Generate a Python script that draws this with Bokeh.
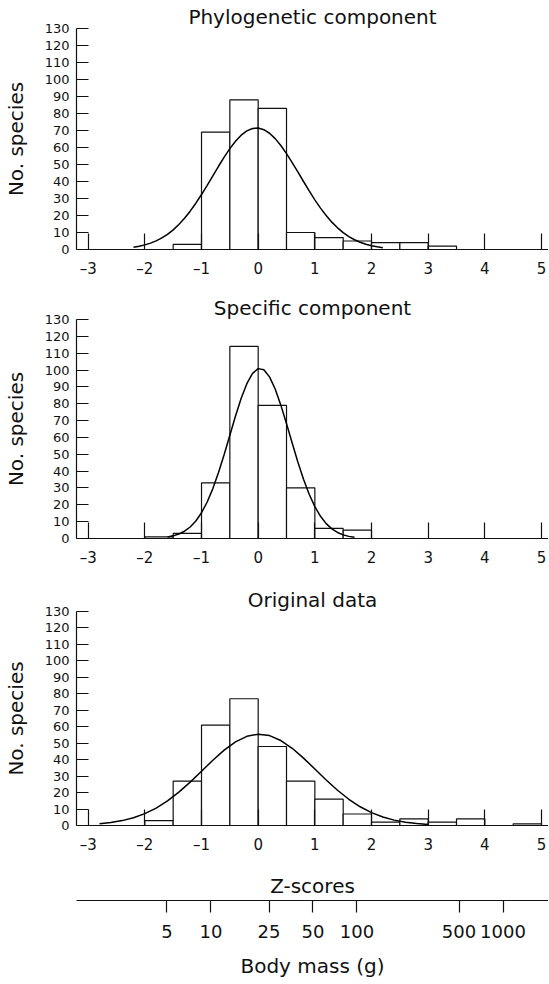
from bokeh.plotting import figure
from bokeh.layouts import column
from bokeh.models import Range1d, FixedTicker, LinearAxis, LogScale, CustomJSTickFormatter
from bokeh.embed import file_html
from bokeh.resources import INLINE

FONT = "DejaVu Sans"
INK = "#111111"

# ---------------- data ----------------
Z_TICKS = [-3, -2, -1, 0, 1, 2, 3, 4, 5]
Y_TICKS = [0, 10, 20, 30, 40, 50, 60, 70, 80, 90, 100, 110, 120, 130]
MASS_TICKS = [5, 10, 25, 50, 100, 500, 1000]
MASS_AT_Z0 = 21.07        # body mass (g) lying under z = 0
DECADES_PER_Z = 0.388     # log10 body mass per one z unit

BIN_WIDTH = 0.5

PHYLO_TITLE = "Phylogenetic component"
PHYLO_BIN_LEFT = [-1.5, -1.0, -0.5, 0.0, 0.5, 1.0, 1.5, 2.0, 2.5, 3.0]
PHYLO_COUNTS = [3, 69, 88, 83, 10, 7, 5, 4, 4, 2]
PHYLO_CURVE_X = [-2.2, -2.1, -2.0, -1.9, -1.8, -1.7, -1.6, -1.5, -1.4, -1.3, -1.2, -1.1,
                 -1.0, -0.9, -0.8, -0.7, -0.6, -0.5, -0.4, -0.3, -0.2, -0.1, 0.0,
                 0.1, 0.2, 0.3, 0.4, 0.5, 0.6, 0.7, 0.8, 0.9, 1.0, 1.1, 1.2, 1.3,
                 1.4, 1.5, 1.6, 1.7, 1.8, 1.9, 2.0, 2.1, 2.2]
PHYLO_CURVE_Y = [1.35, 1.93, 2.71, 3.75, 5.09, 6.80, 8.94, 11.56, 14.69, 18.35, 22.54, 27.23,
                 32.34, 37.77, 43.37, 48.96, 54.37, 59.35, 63.71, 67.24, 69.78, 71.21, 71.45,
                 70.49, 68.38, 65.23, 61.18, 56.42, 51.16, 45.62, 40.00, 34.48, 29.22, 24.36,
                 19.96, 16.09, 12.75, 9.93, 7.61, 5.73, 4.24, 3.09, 2.21, 1.56, 1.08]

SPEC_TITLE = "Specific component"
SPEC_BIN_LEFT = [-2.0, -1.5, -1.0, -0.5, 0.0, 0.5, 1.0, 1.5]
SPEC_COUNTS = [1, 3, 33, 114, 79, 30, 6, 5]
SPEC_CURVE_X = [-1.6, -1.5, -1.4, -1.3, -1.2, -1.1, -1.0, -0.9, -0.8, -0.7, -0.6, -0.5,
                -0.4, -0.3, -0.2, -0.1, 0.0, 0.1, 0.2, 0.3, 0.4, 0.5, 0.6, 0.7, 0.8,
                0.9, 1.0, 1.1, 1.2, 1.3, 1.4, 1.5, 1.6, 1.7]
SPEC_CURVE_Y = [0.89, 1.57, 2.65, 4.33, 6.84, 10.41, 15.28, 21.66, 29.63, 39.12, 49.84, 61.26,
                72.68, 83.20, 91.92, 98.01, 100.84, 100.12, 95.94, 88.71, 79.16, 68.17,
                56.65, 45.43, 35.15, 26.26, 18.93, 13.16, 8.84, 5.72, 3.57, 2.16, 1.26, 0.70]

ORIG_TITLE = "Original data"
ORIG_BIN_LEFT = [-2.0, -1.5, -1.0, -0.5, 0.0, 0.5, 1.0, 1.5, 2.0, 2.5, 3.0, 3.5, 4.5]
ORIG_COUNTS = [3, 27, 61, 77, 48, 27, 16, 7, 2, 4, 2, 4, 1]
ORIG_CURVE_X = [-2.8, -2.6, -2.4, -2.2, -2.0, -1.8, -1.6, -1.4, -1.2, -1.0, -0.8, -0.6,
                -0.4, -0.2, 0.0, 0.2, 0.4, 0.6, 0.8, 1.0, 1.2, 1.4, 1.6, 1.8, 2.0,
                2.2, 2.4, 2.6, 2.8, 3.0]
ORIG_CURVE_Y = [1.04, 1.79, 2.97, 4.72, 7.22, 10.60, 14.94, 20.25, 26.37, 32.99, 39.65, 45.79,
                50.82, 54.17, 55.49, 54.61, 51.63, 46.91, 40.94, 34.34, 27.67, 21.42, 15.93,
                11.38, 7.81, 5.16, 3.27, 1.99, 1.17, 0.65]

Y_LABEL = "No. species"
Z_LABEL = "Z-scores"
MASS_LABEL = "Body mass (g)"

# ---------------- layout ----------------
X_START, X_END = -3.206, 5.123
FIG_W = 548
LABEL_SIZE = "20px"

zfmt = CustomJSTickFormatter(code="return tick < 0 ? '\\u2013' + Math.abs(tick) : String(tick);")


def style_axis(ax):
    ax.axis_line_color = INK
    ax.axis_line_width = 1.2
    ax.major_tick_line_color = INK
    ax.major_tick_line_width = 1.2
    ax.minor_tick_in = 0
    ax.minor_tick_out = 0
    ax.major_label_text_font = FONT
    ax.major_label_text_color = INK
    ax.major_label_text_line_height = 1.0
    ax.axis_label_text_font = FONT
    ax.axis_label_text_font_style = "normal"
    ax.axis_label_text_font_size = LABEL_SIZE
    ax.axis_label_text_color = INK
    ax.axis_label_text_line_height = 1.0


def panel(title, lefts, counts, cx, cy, height, top, bottom, last=False):
    p = figure(width=FIG_W, height=height,
               x_range=Range1d(X_START, X_END), y_range=Range1d(0, 130),
               output_backend="svg", toolbar_location=None,
               min_border_left=75, min_border_right=0, min_border_top=top,
               min_border_bottom=bottom, title=title)
    p.outline_line_color = None
    p.grid.visible = False
    p.background_fill_color = "white"
    p.border_fill_color = "white"

    p.title.text_font = FONT
    p.title.text_font_size = LABEL_SIZE
    p.title.text_font_style = "normal"
    p.title.text_color = INK
    p.title.align = "center"
    p.title.standoff = 0

    ya = p.yaxis[0]
    style_axis(ya)
    ya.ticker = FixedTicker(ticks=Y_TICKS)
    ya.major_tick_in = 12
    ya.major_tick_out = 0
    ya.major_label_standoff = 7
    ya.major_label_text_font_size = "13px"
    ya.axis_label = Y_LABEL
    ya.axis_label_standoff = 14

    xa = p.xaxis[0]
    style_axis(xa)
    xa.ticker = FixedTicker(ticks=Z_TICKS)
    xa.formatter = zfmt
    xa.major_tick_in = 16
    xa.major_tick_out = 0
    xa.major_label_standoff = 10
    xa.major_label_text_font_size = "15px"

    rights = [l + BIN_WIDTH for l in lefts]
    p.quad(left=lefts, right=rights, bottom=0, top=counts,
           fill_color="white", line_color=INK, line_width=1.2)
    p.line(cx, cy, line_color="black", line_width=1.5)

    if last:
        xa.axis_label = Z_LABEL
        xa.axis_label_standoff = 17
        lo = MASS_AT_Z0 * 10 ** (DECADES_PER_Z * X_START)
        hi = MASS_AT_Z0 * 10 ** (DECADES_PER_Z * X_END)
        p.extra_x_ranges = {"mass": Range1d(lo, hi)}
        p.extra_x_scales = {"mass": LogScale()}
        ma = LinearAxis(x_range_name="mass", ticker=FixedTicker(ticks=MASS_TICKS))
        style_axis(ma)
        ma.major_tick_in = 0
        ma.major_tick_out = 12
        ma.major_label_standoff = 12
        ma.major_label_text_font_size = "18px"
        ma.axis_label = MASS_LABEL
        ma.axis_label_standoff = 13
        p.add_layout(ma, "below")
    return p


p1 = panel(PHYLO_TITLE, PHYLO_BIN_LEFT, PHYLO_COUNTS, PHYLO_CURVE_X, PHYLO_CURVE_Y, 293, 28, 44)
p2 = panel(SPEC_TITLE, SPEC_BIN_LEFT, SPEC_COUNTS, SPEC_CURVE_X, SPEC_CURVE_Y, 292, 24, 47)
p3 = panel(ORIG_TITLE, ORIG_BIN_LEFT, ORIG_COUNTS, ORIG_CURVE_X, ORIG_CURVE_Y, 395, 24, 150, last=True)

layout = column(p1, p2, p3, spacing=0)
open("out.html", "w").write(file_html(layout, INLINE))
